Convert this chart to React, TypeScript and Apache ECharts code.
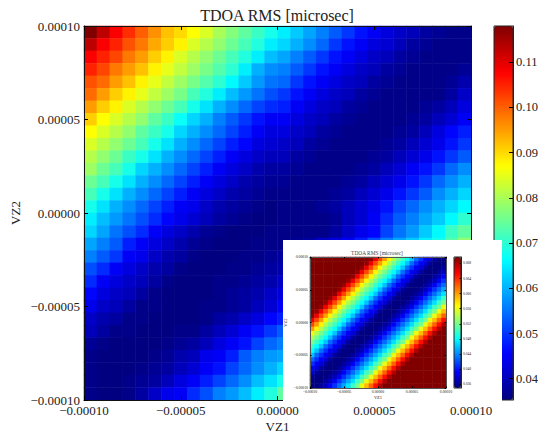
import React, { useEffect, useRef } from "react";
import * as echarts from "echarts";

// Values are in thousandths of a microsecond.
// Rows run top to bottom, columns left to right. Rows 18-29 stop where the inset hides the plot.
const mainRows: number[][] = [
  [118,113,108,104,100,96,92,90,87,84,80,77,74,71,68,65,62,59,56,53,50,47,45,43,41,40,38,37,36,36],
  [113,108,105,101,98,94,91,88,84,81,78,75,72,69,65,63,60,57,54,50,47,45,43,42,40,38,37,36,36,36],
  [108,105,102,98,95,91,88,84,81,78,75,72,69,65,61,59,56,53,50,47,45,43,41,40,38,37,36,36,36,36],
  [105,102,98,95,92,88,85,82,79,76,73,70,65,60,57,56,53,50,47,45,43,41,40,38,37,36,36,36,36,37],
  [101,99,95,92,88,85,82,79,76,73,70,66,62,58,55,54,50,47,45,43,41,40,38,37,36,36,36,36,37,39],
  [99,95,91,88,85,82,79,76,72,69,65,61,58,55,52,50,47,45,43,41,40,38,37,36,36,36,36,36,38,41],
  [95,91,88,84,81,78,75,72,68,64,60,57,54,51,49,48,45,43,41,40,38,37,36,36,36,36,37,38,40,43],
  [91,87,84,81,78,74,71,67,63,60,56,53,50,47,45,45,43,41,40,38,37,36,36,36,36,37,38,40,42,45],
  [87,84,81,78,74,71,68,63,60,57,54,51,48,45,43,43,41,40,38,37,36,36,36,36,37,38,40,43,46,48],
  [84,81,78,75,72,68,64,60,57,54,51,48,46,43,42,41,40,38,37,36,36,36,36,37,38,40,42,44,47,50],
  [81,78,75,71,68,64,60,57,54,51,48,45,43,41,40,40,38,37,36,36,36,36,37,38,40,42,44,47,50,53],
  [79,75,72,68,63,60,57,54,51,48,45,43,41,39,38,38,37,36,36,36,36,37,38,40,42,45,47,50,54,57],
  [75,72,68,64,60,57,54,51,48,45,43,41,39,38,37,37,36,36,36,36,37,38,40,42,44,47,50,54,57,60],
  [72,68,64,60,57,54,51,48,45,43,41,39,38,37,36,36,36,36,36,37,38,40,42,44,47,50,53,57,60,63],
  [68,64,60,57,54,51,48,45,44,41,39,38,37,36,35,36,36,36,37,38,40,42,44,47,51,54,57,60,63,66],
  [65,61,58,55,52,49,46,44,42,40,38,37,36,35,35,36,36,36,36,37,40,42,45,49,53,56,59,62,66,70],
  [63,59,55,52,49,45,43,41,39,37,36,35,35,35,36,36,36,36,36,38,41,44,46,51,55,58,62,66,71,74],
  [59,56,53,48,45,43,41,39,37,36,35,35,35,36,36,36,37,38,41,43,45,48,52,56,59,62,65,68,73,78],
  [56,53,50,45,44,41,39,38,36,35,35,35,36,36,37,38],
  [52,49,45,43,41,39,38,36,35,35,35,36,36,37,38,39],
  [49,45,43,41,40,38,36,35,35,35,36,36,37,38,39,41],
  [46,43,41,40,38,36,35,35,35,35,36,37,38,39,41,43],
  [44,41,40,38,36,36,35,35,35,36,36,37,38,40,42,45],
  [41,39,38,36,36,35,35,35,35,36,38,39,41,43,46,48],
  [40,38,36,36,35,35,35,36,36,38,40,42,45,47,50,53],
  [37,36,35,35,35,35,36,37,38,40,43,45,47,51,54,56],
  [36,35,35,35,35,36,37,39,40,44,45,48,53,56,58,59],
  [36,35,35,35,36,37,38,40,42,45,47,51,54,57,60,63],
  [36,35,35,36,37,38,40,43,45,48,51,54,57,61,64,68],
  [36,35,35,36,38,41,44,45,49,52,56,58,61,65,69,74],
];

const insetRows: number[][] = [
  [72,72,72,72,72,72,72,72,72,72,72,72,72,69,66,63,60,57,54,52,50,48,46,43,41,39,38,36,35,35],
  [72,72,72,72,72,72,72,72,72,72,72,72,69,66,63,60,57,54,52,50,48,46,43,41,39,38,36,35,35,35],
  [72,72,72,72,72,72,72,72,72,72,72,69,66,63,60,57,54,52,50,48,46,43,41,39,38,36,35,35,35,36],
  [72,72,72,72,72,72,72,72,72,72,69,66,63,60,57,54,52,50,48,46,43,41,39,38,36,35,35,35,36,37],
  [72,72,72,72,72,72,72,72,72,69,66,63,60,57,54,52,50,48,46,43,41,39,38,36,35,35,35,36,37,39],
  [72,72,72,72,72,72,72,72,69,66,63,60,57,54,52,50,48,46,43,41,39,38,36,35,35,35,36,37,39,41],
  [72,72,72,72,72,72,72,69,66,63,60,57,54,52,50,48,46,43,41,39,38,36,35,35,35,36,37,39,41,43],
  [72,72,72,72,72,72,69,66,63,60,57,54,52,50,48,46,43,41,39,38,36,35,35,35,36,37,39,41,43,45],
  [72,72,72,72,72,69,66,63,60,57,54,52,50,48,46,43,41,39,38,36,35,35,35,36,37,39,41,43,45,47],
  [72,72,72,72,69,66,63,60,57,54,52,50,48,46,43,41,39,38,36,35,35,35,36,37,39,41,43,45,47,50],
  [72,72,72,69,66,63,60,57,54,52,50,48,46,43,41,39,38,36,35,35,35,36,37,39,41,43,45,47,50,52],
  [72,72,69,66,63,60,57,54,52,50,48,46,43,41,39,38,36,35,35,35,36,37,39,41,43,45,47,50,52,56],
  [72,69,66,63,60,57,54,52,50,48,46,43,41,39,38,36,35,35,35,36,37,39,41,43,45,47,50,52,56,59],
  [69,66,63,60,57,54,52,50,48,46,43,41,39,38,36,35,35,35,36,37,39,41,43,45,47,50,52,56,59,62],
  [66,63,60,57,54,52,50,48,46,43,41,39,38,36,35,35,35,36,37,39,41,43,45,47,50,52,56,59,62,65],
  [63,60,57,54,52,50,48,46,43,41,39,38,36,35,35,35,36,37,39,41,43,45,47,50,52,56,59,62,65,68],
  [60,57,54,52,50,48,46,43,41,39,38,36,35,35,35,36,37,39,41,43,45,47,50,52,56,59,62,65,68,71],
  [57,54,52,50,48,46,43,41,39,38,36,35,35,35,36,37,39,41,43,45,47,50,52,56,59,62,65,68,71,72],
  [54,52,50,48,46,43,41,39,38,36,35,35,35,36,37,39,41,43,45,47,50,52,56,59,62,65,68,71,72,72],
  [52,50,48,46,43,41,39,38,36,35,35,35,36,37,39,41,43,45,47,50,52,56,59,62,65,68,71,72,72,72],
  [50,48,46,43,41,39,38,36,35,35,35,36,37,39,41,43,45,47,50,52,56,59,62,65,68,71,72,72,72,72],
  [48,46,43,41,39,38,36,35,35,35,36,37,39,41,43,45,47,50,52,56,59,62,65,68,71,72,72,72,72,72],
  [46,43,41,39,38,36,35,35,35,36,37,39,41,43,45,47,50,52,56,59,62,65,68,71,72,72,72,72,72,72],
  [43,41,39,38,36,35,35,35,36,37,39,41,43,45,47,50,52,56,59,62,65,68,71,72,72,72,72,72,72,72],
  [41,39,38,36,35,35,35,36,37,39,41,43,45,47,50,52,56,59,62,65,68,71,72,72,72,72,72,72,72,72],
  [39,38,36,35,35,35,36,37,39,41,43,45,47,50,52,56,59,62,65,68,71,72,72,72,72,72,72,72,72,72],
  [38,36,35,35,35,36,37,39,41,43,45,47,50,52,56,59,62,65,68,71,72,72,72,72,72,72,72,72,72,72],
  [36,35,35,35,36,37,39,41,43,45,47,50,52,56,59,62,65,68,71,72,72,72,72,72,72,72,72,72,72,72],
  [35,35,35,36,37,39,41,43,45,47,50,52,56,59,62,65,68,71,72,72,72,72,72,72,72,72,72,72,72,72],
  [35,35,36,37,39,41,43,45,47,50,52,56,59,62,65,68,71,72,72,72,72,72,72,72,72,72,72,72,72,72],
];

const cellIndex = Array.from({ length: 30 }, (_, i) => String(i));
const mainColorTicks = [0.04, 0.05, 0.06, 0.07, 0.08, 0.09, 0.1, 0.11];
const insetColorTicks = [0.036, 0.04, 0.044, 0.048, 0.052, 0.056, 0.06, 0.064, 0.068];
const mainTitle = "TDOA RMS [microsec]";
const xName = "VZ1";
const yName = "VZ2";
const jet = ["#000080", "#0000ff", "#0080ff", "#00ffff", "#80ff80", "#ffff00", "#ff8000", "#ff0000", "#800000"];
const SERIF = '"Liberation Serif", serif';

const NO_BOUNDS = { outerBoundsMode: "none", containLabel: false };
const MAIN = { left: 84, top: 26, width: 387, height: 374, ...NO_BOUNDS };
const MAIN_CB = { left: 494, top: 26, width: 19, height: 374, ...NO_BOUNDS };
const INSET = { left: 310, top: 257, width: 136, height: 131, ...NO_BOUNDS };
const INSET_CB = { left: 454, top: 257, width: 7, height: 131, ...NO_BOUNDS };

const toCells = (rows: number[][]) =>
  rows.flatMap((row, r) => row.map((v, c) => [c, r, v]));
const fmt = (v: number) =>
  Math.abs(v) < 1e-9 ? "0.00000" : v.toFixed(5).replace("-", "\u2212");

function cartesianAxes(
  gridIndex: number,
  z: number,
  color: string,
  lineW: number,
  tickLen: number,
  fontSize: number,
  margin: number,
  nameGapX: number,
  nameGapY: number,
  nameSize: number,
) {
  const base = {
    type: "value",
    gridIndex,
    min: -0.0001,
    max: 0.0001,
    interval: 0.00005,
    z,
    splitLine: { show: false },
    axisLine: { show: true, onZero: false, lineStyle: { color, width: lineW } },
    axisTick: { show: true, inside: true, length: tickLen, lineStyle: { color: "#000", width: lineW } },
  };
  const labels = {
    show: true,
    formatter: fmt,
    color: "#222",
    fontFamily: SERIF,
    fontSize,
    margin,
    showMinLabel: true,
    showMaxLabel: true,
  };
  const nameStyle = { color: "#222", fontFamily: SERIF, fontSize: nameSize };
  return {
    x: [
      { ...base, position: "bottom", axisLabel: labels, name: xName, nameLocation: "middle", nameGap: nameGapX, nameMoveOverlap: false, nameTextStyle: nameStyle },
      { ...base, position: "top", axisLabel: { show: false } },
    ],
    y: [
      { ...base, position: "left", axisLabel: labels, name: yName, nameLocation: "middle", nameGap: nameGapY, nameMoveOverlap: false, nameTextStyle: nameStyle },
      { ...base, position: "right", axisLabel: { show: false } },
    ],
  };
}

const hiddenCategory = (gridIndex: number, inverse = false) => ({
  type: "category",
  gridIndex,
  data: cellIndex,
  inverse,
  show: false,
});

function colorAxes(gridIndex: number, min: number, max: number, ticks: number[], z: number, fontSize: number, tickLen: number, margin: number, decimals: number) {
  return {
    x: { type: "value", gridIndex, show: false, min: 0, max: 1 },
    y: {
      type: "value",
      gridIndex,
      position: "right",
      min,
      max,
      z,
      splitLine: { show: false },
      axisLine: { show: true, onZero: false, lineStyle: { color: "#222", width: 1 } },
      axisTick: { show: true, inside: true, length: tickLen, customValues: ticks, lineStyle: { color: "#000", width: 1 } },
      axisLabel: {
        show: true,
        customValues: ticks,
        formatter: (v: number) => v.toFixed(decimals),
        color: "#222",
        fontFamily: SERIF,
        fontSize,
        margin,
      },
    },
  };
}

export default function App() {
  const ref = useRef<HTMLDivElement>(null);
  useEffect(() => {
    document.body.style.margin = "0";
    const chart = echarts.init(ref.current!, undefined, { renderer: "svg" });
    const mainAxes = cartesianAxes(1, 3, "#111", 1, 4, 13, 4, 19.5, 62, 13);
    const insetAxes = cartesianAxes(4, 8, "#555", 1, 1.5, 3.8, 2, 7, 22, 4.5);
    const mainCb = colorAxes(2, 0.0353, 0.118, mainColorTicks, 3, 12.5, 4, 3, 2);
    const insetCb = colorAxes(5, 0.035, 0.0697, insetColorTicks, 8, 3.6, 1.5, 2, 3);
    const cbFrame = { show: true, backgroundColor: "transparent", borderColor: "#222", borderWidth: 1 };
    chart.setOption({
      animation: false,
      backgroundColor: "#fff",
      title: [
        { text: mainTitle, left: 277, top: 7, padding: 0, textAlign: "center", textStyle: { fontFamily: SERIF, fontSize: 16, fontWeight: "normal", color: "#222" } },
        { text: mainTitle, left: 377, top: 250.5, padding: 0, textAlign: "center", z: 8, textStyle: { fontFamily: SERIF, fontSize: 5.4, fontWeight: "normal", color: "#444" } },
      ],
      grid: [
        { ...MAIN, z: 0 },
        { ...MAIN, z: 3 },
        { ...MAIN_CB, ...cbFrame, z: 3 },
        { ...INSET, z: 6 },
        { ...INSET, z: 8 },
        { ...INSET_CB, ...cbFrame, z: 8 },
      ],
      xAxis: [hiddenCategory(0), ...mainAxes.x, mainCb.x, hiddenCategory(3), ...insetAxes.x, insetCb.x],
      yAxis: [hiddenCategory(0, true), ...mainAxes.y, mainCb.y, hiddenCategory(3, true), ...insetAxes.y, insetCb.y],
      visualMap: [
        {
          type: "continuous", seriesIndex: 0, min: 35.3, max: 118, show: true, calculable: false, hoverLink: false, borderRadius: 0,
          left: MAIN_CB.left, top: MAIN_CB.top, itemWidth: MAIN_CB.width, itemHeight: MAIN_CB.height, padding: 0, z: 2,
          inRange: { color: jet },
        },
        {
          type: "continuous", seriesIndex: 1, min: 35, max: 69.7, show: true, calculable: false, hoverLink: false, borderRadius: 0,
          left: INSET_CB.left, top: INSET_CB.top, itemWidth: INSET_CB.width, itemHeight: INSET_CB.height, padding: 0, z: 7,
          inRange: { color: jet },
        },
      ],
      graphic: {
        elements: [
          { type: "rect", z: 5, silent: true, shape: { x: 283, y: 240, width: 219, height: 161 }, style: { fill: "#fff" } },
        ],
      },
      series: [
        { type: "heatmap", xAxisIndex: 0, yAxisIndex: 0, data: toCells(mainRows), z: 2, progressive: 0, silent: true, itemStyle: { borderWidth: 0 } },
        { type: "heatmap", xAxisIndex: 4, yAxisIndex: 4, data: toCells(insetRows), z: 7, progressive: 0, silent: true, itemStyle: { borderWidth: 0 } },
      ],
    });
    return () => chart.dispose();
  }, []);
  return <div ref={ref} style={{ width: 538, height: 434 }} />;
}
